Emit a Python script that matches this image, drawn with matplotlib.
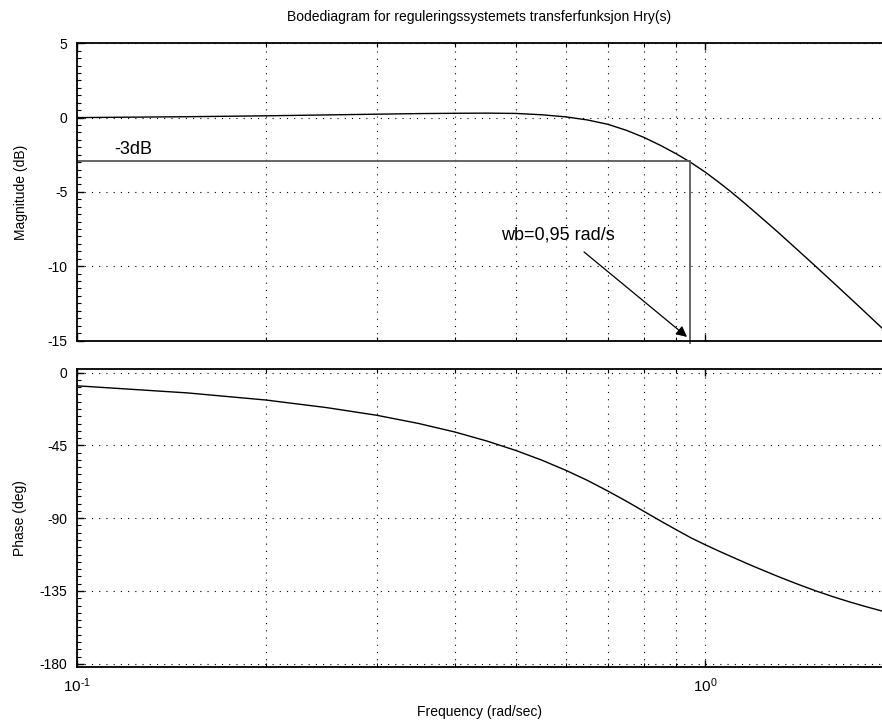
import matplotlib
matplotlib.use("Agg")
import matplotlib.pyplot as plt
from matplotlib.ticker import LogLocator, NullFormatter, FixedLocator, AutoMinorLocator

plt.rcParams['font.family'] = ['Liberation Sans', 'DejaVu Sans']
plt.rcParams['mathtext.fontset'] = 'custom'
plt.rcParams['mathtext.rm'] = 'Liberation Sans'
plt.rcParams['axes.unicode_minus'] = False

# ---- data ----
freq = [0.1, 0.15, 0.2, 0.25, 0.3, 0.35, 0.4, 0.45, 0.5, 0.55, 0.6, 0.65, 0.7,
        0.75, 0.8, 0.85, 0.9, 0.95, 1.0, 1.05, 1.1, 1.15, 1.2, 1.3, 1.4, 1.5,
        1.6, 1.7, 1.8, 1.913]
mag_db = [0.0, 0.06, 0.12, 0.18, 0.23, 0.27, 0.29, 0.3, 0.28, 0.19, 0.05,
          -0.16, -0.45, -0.86, -1.34, -1.88, -2.44, -3.03, -3.66, -4.33, -5.0,
          -5.68, -6.35, -7.63, -8.86, -10.01, -11.1, -12.13, -13.11, -14.16]
phase_deg = [-8.2, -12.6, -17.0, -21.7, -26.4, -31.5, -36.8, -42.4, -48.2,
             -54.2, -60.4, -66.7, -73.2, -79.6, -85.9, -91.8, -97.2, -102.2,
             -106.4, -110.2, -113.7, -117.0, -120.1, -125.7, -130.6, -134.9,
             -138.6, -141.8, -144.6, -147.4]

wb = 0.946
level_3db = -2.9
mag_ticks = [5, 0, -5, -10, -15]
phase_ticks = [0, -45, -90, -135, -180]
x_ticks = [0.1, 1.0]
x_tick_labels = [r'$\mathdefault{10^{\text{-}1}}$', r'$\mathdefault{10^{0}}$']
title = "Bodediagram for reguleringssystemets transferfunksjon Hry(s)"

fig = plt.figure(figsize=(8.82, 7.2), dpi=100)
left = 77 / 882
width = 1.0 - left
ax1 = fig.add_axes([left, 1 - 340.5 / 720, width, (340.5 - 43.3) / 720])
ax2 = fig.add_axes([left, 1 - 666.7 / 720, width, (666.7 - 369.3) / 720])

xmin, xmax = 0.1, 1.913
grid_style = dict(linestyle=(0, (1, 5.5)), color='black', linewidth=0.8)

for ax in (ax1, ax2):
    ax.set_xscale('log')
    ax.set_xlim(xmin, xmax)
    ax.xaxis.set_major_locator(FixedLocator(x_ticks))
    ax.xaxis.set_minor_locator(LogLocator(base=10, subs=range(2, 10), numticks=20))
    ax.xaxis.set_minor_formatter(NullFormatter())
    ax.grid(True, which='major', axis='both', **grid_style)
    ax.grid(True, which='minor', axis='x', **grid_style)
    ax.tick_params(which='both', direction='in', top=True, right=False, labelsize=10)
    ax.tick_params(which='major', length=5, width=1.0, pad=7)
    ax.tick_params(which='minor', length=3, width=0.8)
    for s in ('top', 'left', 'bottom'):
        ax.spines[s].set_linewidth(1.3)
        ax.spines[s].set_color('black')
    ax.spines['right'].set_visible(False)

# Magnitude
ax1.plot(freq, mag_db, color='black', linewidth=1.0)
ax1.set_ylim(-15, 5)
ax1.yaxis.set_major_locator(FixedLocator(mag_ticks))
ax1.yaxis.set_minor_locator(AutoMinorLocator(10))
ax1.xaxis.set_major_formatter(NullFormatter())
ax1.set_ylabel('Magnitude (dB)', fontsize=10, labelpad=14)
ax1.set_title(title, fontsize=10, pad=16)

ax1.plot([xmin, wb], [level_3db, level_3db], color='0.35', linewidth=1.3)
ax1.plot([wb, wb], [level_3db, -15.2], color='0.35', linewidth=1.3, clip_on=False)
ax1.text(0.1146, -2.45, '-3dB', fontsize=13, ha='left', va='baseline')
ax1.text(0.7188, -8.17, 'wb=0,95 rad/s', fontsize=13, ha='right', va='baseline')
ax1.annotate('', xy=(0.936, -14.76), xytext=(0.6416, -9.04),
             arrowprops=dict(arrowstyle='-|>', mutation_scale=16, color='black',
                             lw=0.9, shrinkA=0, shrinkB=0))

# Phase
ax2.plot(freq, phase_deg, color='black', linewidth=1.0)
ax2.set_ylim(-181.8, 2.0)
ax2.yaxis.set_major_locator(FixedLocator(phase_ticks))
ax2.yaxis.set_minor_locator(AutoMinorLocator(10))
ax2.set_xticklabels(x_tick_labels, fontsize=11)
ax2.set_ylabel('Phase (deg)', fontsize=10, labelpad=9)
ax2.set_xlabel('Frequency (rad/sec)', fontsize=10, labelpad=7)

fig.savefig('out.png', dpi=100)
